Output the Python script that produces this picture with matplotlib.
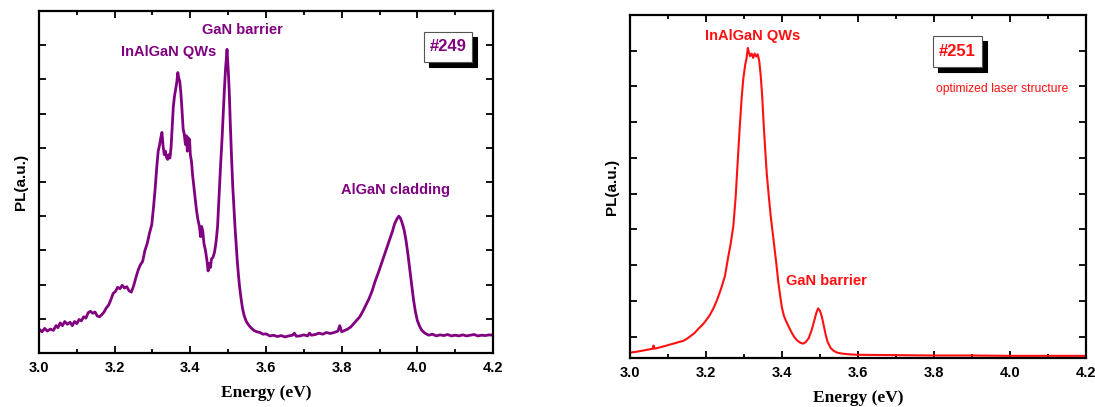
import numpy as np
import matplotlib
matplotlib.use('Agg')
import matplotlib.pyplot as plt
import matplotlib.transforms as mtransforms
from matplotlib.patches import Rectangle
from matplotlib.ticker import MultipleLocator, FormatStrFormatter

# PL spectrum of sample #249 (photon energy in eV, intensity in a.u.)
energy_249 = [3.000, 3.008, 3.015, 3.022, 3.030, 3.038, 3.045, 3.050, 3.056, 3.062,
              3.068, 3.075, 3.082, 3.088, 3.094, 3.100, 3.106, 3.112, 3.118, 3.124,
              3.130, 3.136, 3.142, 3.148, 3.154, 3.160, 3.166, 3.172, 3.178, 3.184,
              3.190, 3.196, 3.202, 3.208, 3.214, 3.220, 3.226, 3.232, 3.238, 3.244,
              3.250, 3.256, 3.262, 3.268, 3.274, 3.280, 3.286, 3.292, 3.298, 3.303,
              3.307, 3.311, 3.315, 3.319, 3.322, 3.325, 3.328, 3.331, 3.334, 3.337,
              3.340, 3.343, 3.346, 3.349, 3.352, 3.355, 3.358, 3.361, 3.364, 3.367,
              3.369, 3.372, 3.375, 3.378, 3.381, 3.384, 3.387, 3.390, 3.392, 3.394,
              3.396, 3.398, 3.400, 3.403, 3.406, 3.409, 3.412, 3.416, 3.420, 3.424,
              3.427, 3.430, 3.433, 3.436, 3.440, 3.444, 3.447, 3.450, 3.453, 3.456,
              3.460, 3.464, 3.468, 3.472, 3.476, 3.480, 3.484, 3.487, 3.490, 3.493,
              3.495, 3.497, 3.499, 3.501, 3.503, 3.506, 3.509, 3.512, 3.515, 3.518,
              3.521, 3.524, 3.527, 3.530, 3.534, 3.538, 3.542, 3.548, 3.554, 3.560,
              3.568, 3.576, 3.584, 3.592, 3.600, 3.610, 3.620, 3.630, 3.640, 3.650,
              3.660, 3.670, 3.675, 3.680, 3.690, 3.700, 3.710, 3.715, 3.720, 3.730,
              3.740, 3.750, 3.760, 3.770, 3.780, 3.790, 3.795, 3.800, 3.808, 3.816,
              3.824, 3.832, 3.840, 3.848, 3.856, 3.864, 3.872, 3.880, 3.888, 3.896,
              3.904, 3.912, 3.920, 3.928, 3.934, 3.940, 3.946, 3.951, 3.955, 3.960,
              3.965, 3.970, 3.975, 3.980, 3.985, 3.990, 3.995, 4.000, 4.006, 4.012,
              4.020, 4.030, 4.040, 4.050, 4.060, 4.070, 4.080, 4.090, 4.100, 4.110,
              4.120, 4.130, 4.140, 4.150, 4.160, 4.170, 4.180, 4.190, 4.200]
pl_249 = [0.70, 0.62, 0.72, 0.64, 0.70, 0.66, 0.80, 0.74, 0.88, 0.80,
          0.92, 0.84, 0.90, 0.80, 0.92, 0.86, 0.98, 0.94, 1.06, 1.02,
          1.18, 1.22, 1.16, 1.20, 1.08, 1.06, 1.12, 1.20, 1.32, 1.40,
          1.56, 1.74, 1.80, 1.92, 1.88, 1.98, 1.90, 1.94, 1.82, 1.78,
          1.96, 2.20, 2.42, 2.58, 2.68, 3.00, 3.20, 3.50, 3.75, 4.30,
          4.80, 5.40, 5.90, 6.10, 6.30, 6.45, 6.05, 5.80, 5.90, 5.72,
          5.66, 5.80, 5.70, 6.00, 6.60, 7.20, 7.50, 7.70, 7.90, 8.20,
          8.05, 7.95, 7.60, 7.10, 6.55, 6.40, 6.10, 6.35, 5.90, 6.30,
          5.95, 6.25, 5.80, 5.60, 5.20, 4.90, 4.60, 4.20, 3.90, 3.70,
          3.40, 3.70, 3.55, 3.20, 3.00, 2.70, 2.40, 2.62, 2.50, 2.75,
          2.80, 2.95, 3.25, 3.70, 4.60, 5.50, 6.30, 7.00, 7.70, 8.30,
          8.60, 8.88, 8.50, 8.10, 7.60, 6.60, 5.70, 4.90, 4.30, 3.70,
          3.20, 2.70, 2.30, 1.95, 1.60, 1.30, 1.10, 0.92, 0.82, 0.74,
          0.66, 0.62, 0.60, 0.55, 0.56, 0.50, 0.52, 0.48, 0.51, 0.47,
          0.50, 0.52, 0.58, 0.49, 0.50, 0.53, 0.50, 0.58, 0.52, 0.54,
          0.58, 0.55, 0.60, 0.57, 0.60, 0.64, 0.80, 0.62, 0.66, 0.70,
          0.76, 0.86, 0.96, 1.06, 1.22, 1.40, 1.58, 1.80, 2.08, 2.32,
          2.58, 2.85, 3.10, 3.35, 3.55, 3.78, 3.92, 4.00, 3.95, 3.80,
          3.60, 3.30, 2.90, 2.45, 2.00, 1.55, 1.20, 0.95, 0.78, 0.66,
          0.58, 0.52, 0.55, 0.50, 0.53, 0.51, 0.54, 0.50, 0.52, 0.50,
          0.53, 0.50, 0.52, 0.54, 0.50, 0.52, 0.51, 0.53, 0.52]

# PL spectrum of sample #251 (optimized laser structure)
energy_251 = [3.000, 3.020, 3.040, 3.060, 3.062, 3.064, 3.080, 3.100, 3.120, 3.140,
              3.150, 3.160, 3.170, 3.180, 3.190, 3.200, 3.210, 3.220, 3.230, 3.240,
              3.250, 3.258, 3.265, 3.272, 3.278, 3.284, 3.289, 3.294, 3.298, 3.303,
              3.307, 3.310, 3.313, 3.316, 3.320, 3.324, 3.328, 3.332, 3.336, 3.340,
              3.344, 3.348, 3.352, 3.356, 3.360, 3.365, 3.370, 3.375, 3.380, 3.385,
              3.390, 3.395, 3.400, 3.405, 3.410, 3.418, 3.425, 3.432, 3.440, 3.448,
              3.455, 3.462, 3.470, 3.478, 3.485, 3.490, 3.495, 3.500, 3.505, 3.510,
              3.515, 3.520, 3.528, 3.536, 3.545, 3.560, 3.580, 3.600, 3.700, 3.800,
              3.900, 4.000, 4.100, 4.200]
pl_251 = [0.55, 0.58, 0.62, 0.66, 0.75, 0.66, 0.70, 0.76, 0.82, 0.88,
          0.94, 1.02, 1.10, 1.22, 1.32, 1.45, 1.60, 1.80, 2.05, 2.35,
          2.70, 3.20, 3.60, 4.10, 4.90, 6.00, 6.90, 7.70, 8.20, 8.60,
          8.80, 9.08, 8.95, 8.85, 8.92, 8.80, 8.92, 8.84, 8.90, 8.72,
          8.30, 7.70, 6.90, 6.20, 5.55, 4.95, 4.40, 3.95, 3.50, 3.05,
          2.55, 2.15, 1.80, 1.58, 1.45, 1.27, 1.12, 0.99, 0.89, 0.83,
          0.80, 0.84, 0.95, 1.18, 1.45, 1.65, 1.79, 1.72, 1.55, 1.30,
          1.05, 0.85, 0.68, 0.60, 0.55, 0.52, 0.50, 0.49, 0.48, 0.47,
          0.47, 0.46, 0.46, 0.46]

purple = '#800080'
red = '#ff1010'
sans = 'Liberation Sans'
serif = 'Liberation Serif'

fig = plt.figure(figsize=(10.95, 4.07), dpi=100)
ax1 = fig.add_axes([39/1095, 1 - 353/407, (493-39)/1095, (353-11)/407])
ax2 = fig.add_axes([630/1095, 1 - 358/407, (1086-630)/1095, (358-15)/407])


def style_axes(ax, ylim):
    ax.set_xlim(3.0, 4.2)
    ax.set_ylim(*ylim)
    ax.xaxis.set_major_locator(MultipleLocator(0.2))
    ax.xaxis.set_minor_locator(MultipleLocator(0.1))
    ax.yaxis.set_major_locator(MultipleLocator(1))
    ax.tick_params(which='both', direction='in', top=True, right=True, width=1.3)
    ax.tick_params(which='major', length=5, labelsize=10.5, pad=6)
    ax.tick_params(which='minor', length=3)
    ax.set_yticklabels([])
    ax.xaxis.set_major_formatter(FormatStrFormatter('%.1f'))
    for lab in ax.get_xticklabels():
        lab.set_fontfamily(sans)
        lab.set_fontweight('bold')
    for sp in ax.spines.values():
        sp.set_linewidth(1.6)
    ax.set_xlabel('Energy (eV)', fontfamily=serif, fontweight='bold', fontsize=12.5, labelpad=7)
    ax.set_ylabel('PL(a.u.)', fontfamily=sans, fontweight='bold', fontsize=11, labelpad=2)


def boxed_label(ax, x0, y0, x1, y1, text, color):
    # white label box with a black drop shadow, placed in axes fractions
    shadow = mtransforms.offset_copy(ax.transAxes, fig=fig, x=5, y=-5, units='dots')
    ax.add_patch(Rectangle((x0, y0), x1 - x0, y1 - y0, transform=shadow,
                           fc='black', ec='black', lw=0.8, zorder=4))
    ax.add_patch(Rectangle((x0, y0), x1 - x0, y1 - y0, transform=ax.transAxes,
                           fc='white', ec='#555555', lw=0.8, zorder=5))
    ax.text((x0 + x1) / 2, (y0 + y1) / 2, text, transform=ax.transAxes,
            ha='center', va='center', fontsize=12, fontfamily=sans,
            fontweight='bold', color=color, zorder=6)


# sample #249
ax1.plot(energy_249, pl_249, color=purple, lw=2.0)
style_axes(ax1, (0, 10))
ax1.text(3.343, 8.8, 'InAlGaN QWs', color=purple, fontsize=10.5, fontweight='bold',
         fontfamily=sans, ha='center', va='center')
ax1.text(3.537, 9.44, 'GaN barrier', color=purple, fontsize=10.5, fontweight='bold',
         fontfamily=sans, ha='center', va='center')
ax1.text(3.942, 4.77, 'AlGaN cladding', color=purple, fontsize=10.5, fontweight='bold',
         fontfamily=sans, ha='center', va='center')
boxed_label(ax1, 0.848, 0.851, 0.954, 0.939, '#249', purple)

# sample #251
ax2.plot(energy_251, pl_251, color=red, lw=1.5)
style_axes(ax2, (0.4, 10.0))
ax2.text(3.323, 9.42, 'InAlGaN QWs', color=red, fontsize=10.5, fontweight='bold',
         fontfamily=sans, ha='center', va='center')
ax2.text(3.517, 2.55, 'GaN barrier', color=red, fontsize=10.5, fontweight='bold',
         fontfamily=sans, ha='center', va='center')
boxed_label(ax2, 0.664, 0.848, 0.772, 0.939, '#251', red)
ax2.text(3.98, 7.93, 'optimized laser structure', color=red, fontsize=8.7,
         fontfamily=sans, ha='center', va='center')

fig.savefig('out.png', dpi=100)
